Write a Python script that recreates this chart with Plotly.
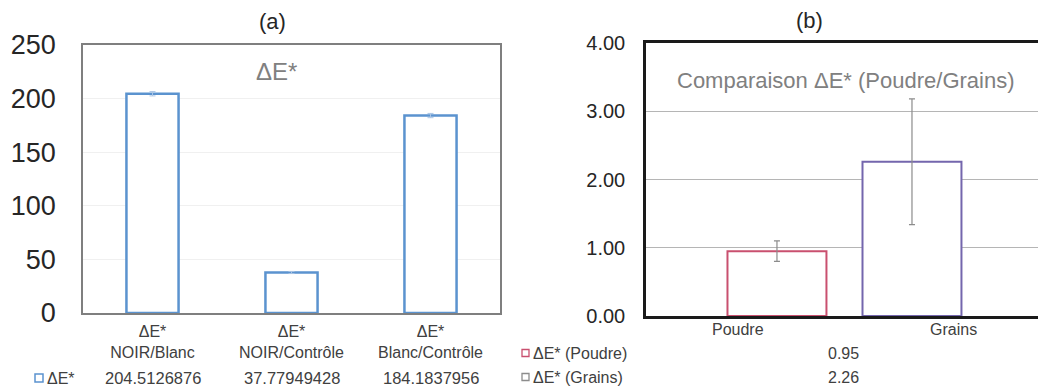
import plotly.graph_objects as go

# ---------------- data ----------------
cats_a_top = ["ΔE*", "ΔE*", "ΔE*"]
cats_a = ["NOIR/Blanc", "NOIR/Contrôle", "Blanc/Contrôle"]
values_a = [204.5126876, 37.77949428, 184.1837956]
errors_a = [2.0, 1.0, 2.0]
series_a = "ΔE*"
title_a = "ΔE*"
ticks_a = [0, 50, 100, 150, 200, 250]

cats_b = ["Poudre", "Grains"]
series_b = ["ΔE* (Poudre)", "ΔE* (Grains)"]
values_b = [0.95, 2.26]
errors_b = [0.15, 0.92]
title_b = "Comparaison ΔE* (Poudre/Grains)"
ticks_b = [0, 1, 2, 3, 4]

# page offset (browser body margin) compensation
OFF = 8
W, H = 1046 - OFF, 387 - OFF
FONT = "Liberation Sans, Arial, sans-serif"
BLUE = "#5b93cf"
PINK = "#c9506f"
PURPLE = "#7466ad"


def px(x):
    return (x - OFF) / W


def py(y):
    return 1 - (y - OFF) / H


fig = go.Figure()

labels_a = [f"{t}<br>{c}" for t, c in zip(cats_a_top, cats_a)]

fig.add_trace(go.Bar(
    x=labels_a, y=values_a, name=series_a,
    marker=dict(color="white", line=dict(color=BLUE, width=2.5)),
    width=0.375,
    error_y=dict(type="data", array=errors_a, color="#a9c4e4", thickness=1, width=3),
    xaxis="x", yaxis="y", showlegend=False,
))

colors_b = [PINK, PURPLE]
for i in range(len(cats_b)):
    fig.add_trace(go.Bar(
        x=[cats_b[i]], y=[values_b[i]], name=series_b[i],
        marker=dict(color="white", line=dict(color=colors_b[i], width=2)),
        width=0.733,
        error_y=dict(type="data", array=[errors_b[i]], color="#8c8c8c", thickness=1.2, width=3),
        xaxis="x2", yaxis="y2", showlegend=False,
    ))

fig.update_layout(
    template="none",
    width=W, height=H,
    margin=dict(l=0, r=0, t=0, b=0, pad=0, autoexpand=False),
    paper_bgcolor="white", plot_bgcolor="white",
    barmode="overlay",
    font=dict(family=FONT, color="#404040"),
    xaxis=dict(
        domain=[px(83), px(500)], anchor="y", automargin=False,
        range=[-0.5, 2.5], type="category",
        showline=True, mirror=True, linecolor="#7f7f7f", linewidth=1.5,
        showgrid=False, zeroline=False,
        ticks="", tickfont=dict(size=16, color="#404040"),
        ticklabelstandoff=3,
    ),
    yaxis=dict(
        domain=[py(313), py(45)], anchor="x", automargin=False,
        range=[0, 250], tickvals=ticks_a,
        showline=True, mirror=True, linecolor="#7f7f7f", linewidth=1.5,
        showgrid=True, gridcolor="#f0f0f0", gridwidth=1,
        ticks="", tickfont=dict(size=27, color="#262626"),
        ticklabelstandoff=20, zeroline=False,
    ),
    xaxis2=dict(
        domain=[px(646), px(1042)], anchor="y2", automargin=False,
        range=[-0.97, 1.963], type="category",
        showline=True, mirror=True, linecolor="#1a1a1a", linewidth=2.5,
        showgrid=False, zeroline=False,
        ticks="", showticklabels=False,
    ),
    yaxis2=dict(
        domain=[py(316), py(43)], anchor="x2", automargin=False,
        range=[0, 4], tickvals=ticks_b, tickformat=".2f",
        showline=True, mirror=True, linecolor="#1a1a1a", linewidth=2.5,
        showgrid=True, gridcolor="#b5b5b5", gridwidth=1,
        ticks="", tickfont=dict(size=20, color="#262626"),
        ticklabelstandoff=14, zeroline=False,
    ),
)

ann = []
shapes = []


def text(t, x, y, size, color="#404040", xanchor="center", xref="paper"):
    ann.append(dict(text=t, x=x, y=py(y), xref=xref, yref="paper",
                    xanchor=xanchor, yanchor="middle", showarrow=False,
                    font=dict(size=size, color=color)))


# panel titles
text("(a)", px(272), 21, 22, "#262626")
text("(b)", px(809), 20, 22, "#262626")
text(title_a, px(276), 72, 24, "#808080")
text(title_b, px(846), 80, 22, "#808080")

# panel (a) data table row
shapes.append(dict(type="rect", xref="paper", yref="paper",
                   x0=px(35), x1=px(43), y0=py(382), y1=py(374),
                   line=dict(color=BLUE, width=1.5), fillcolor="white"))
text(series_a, px(45), 378, 16, xanchor="left")
for lab, v in zip(labels_a, values_a):
    text(f"{v:.10g}", lab, 378, 16.5, xref="x")

# panel (b) category labels
for c, xpos in zip(cats_b, [738, 953]):
    text(c, px(xpos), 329, 16)

# panel (b) data table rows
sq_colors = [PINK, "#8c8c8c"]
for i, (s, v) in enumerate(zip(series_b, values_b)):
    yc = 353 + 24 * i
    shapes.append(dict(type="rect", xref="paper", yref="paper",
                       x0=px(522), x1=px(529), y0=py(yc + 3.5), y1=py(yc - 3.5),
                       line=dict(color=sq_colors[i], width=1.3), fillcolor="white"))
    text(s, px(531), yc, 16, xanchor="left")
    text(f"{v:.2f}", px(843), yc, 16)

fig.update_layout(annotations=ann, shapes=shapes)

fig.write_html("out.html")
